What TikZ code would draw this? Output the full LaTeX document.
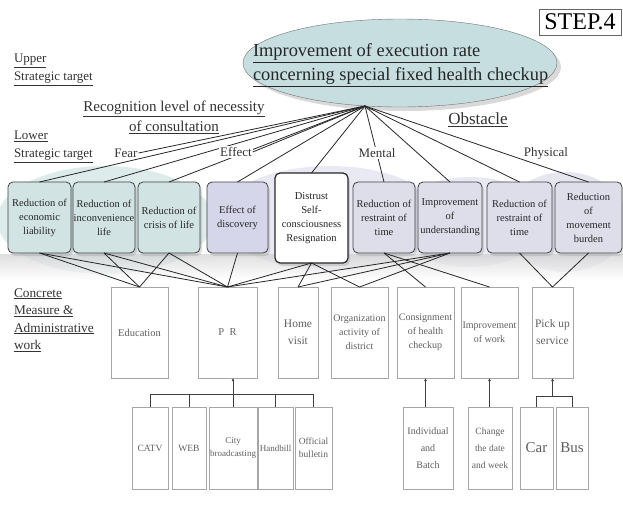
\documentclass[tikz,border=0pt]{standalone}
\usepackage{fontspec}
\setmainfont{Liberation Serif}
\usetikzlibrary{arrows.meta,positioning,shapes.geometric,shadows}

\definecolor{goalfill}{RGB}{198,222,224}
\definecolor{tealbox}{RGB}{210,227,228}
\definecolor{lilabox}{RGB}{214,214,234}
\definecolor{greybox}{RGB}{222,222,234}
\definecolor{tealglow}{RGB}{200,222,222}
\definecolor{lilaglow}{RGB}{206,206,228}
\definecolor{measuretext}{RGB}{95,95,95}

\begin{document}
\begin{tikzpicture}[
  x=1pt, y=-1pt,
  every node/.style={inner sep=0pt, outer sep=0pt, align=center},
  goal/.style={ellipse, draw=black!55, fill=goalfill, minimum width=314, minimum height=88,
    drop shadow={shadow xshift=4pt, shadow yshift=-4pt, opacity=.3}},
  target/.style={draw=black!75, thick, rounded corners=5pt, minimum height=71, text=black!85,
    font=\fontsize{10.5}{14}\selectfont, drop shadow={shadow xshift=2pt, shadow yshift=-3pt, opacity=.25}},
  measure/.style={draw=black!35, minimum height=91, text=measuretext, font=\fontsize{10}{14}\selectfont},
  means/.style={draw=black!35, minimum height=82, text=measuretext, font=\fontsize{9.5}{13}\selectfont},
  level/.style={anchor=west, align=left, text=black!80, font=\fontsize{13}{18}\selectfont},
  kind/.style={fill=white, inner sep=1pt, text=black!80, font=\fontsize{13}{16}\selectfont},
  >={Latex[length=3pt,width=3pt]}
]
\useasboundingbox (0,0) rectangle (623,509);

% --- background glow behind the targets ---
\fill[tealglow, opacity=.6] (105,220) ellipse (108 and 54);
\fill[lilaglow, opacity=.45] (330,218) ellipse (110 and 52);
\fill[lilaglow, opacity=.45] (470,222) ellipse (75 and 45);
\fill[lilaglow, opacity=.5] (565,222) ellipse (62 and 50);
\shade[top color=black!18, bottom color=white, opacity=.7] (0,254) rectangle (623,280);

% --- upper target ---
\node (goal) [goal] at (400,63) {};
\node (title) [anchor=west, align=left, text=black!85, font=\fontsize{18.4}{24}\selectfont] at (253,65)
  {\underline{Improvement of execution rate}\\\underline{concerning special fixed health checkup}};
\coordinate (hub) at (365,106);

\node (step) [draw=black!60, minimum width=82, minimum height=26, font=\fontsize{24}{24}\selectfont] at (580,22) {STEP.4};

% --- level labels ---
\node (upper) [level] at (14,70) {\underline{Upper}\\\underline{Strategic target}};
\node (lower) [level] at (14,147) {\underline{Lower}\\\underline{Strategic target}};
\node (concrete) [level, font=\fontsize{13.3}{17.5}\selectfont] at (14,320)
  {\underline{Concrete}\\\underline{Measure \&}\\\underline{Administrative}\\\underline{work}};
\node (recog) [text=black!80, font=\fontsize{15}{20}\selectfont] at (174,117)
  {\underline{Recognition level of necessity}\\\underline{of consultation}};
\node (obstacle) [text=black!80, font=\fontsize{17}{20}\selectfont] at (478,120) {\underline{Obstacle}};

% --- lower targets ---
\node (b1) [target, fill=tealbox, minimum width=63] at (39.5,217.5) {Reduction of\\economic\\liability};
\node (b2) [target, fill=tealbox, minimum width=62] at (104,217.5) {Reduction of\\inconvenience\\life};
\node (b3) [target, fill=tealbox, minimum width=62] at (169,217.5) {Reduction of\\crisis of life};
\node (b4) [target, fill=lilabox, minimum width=61] at (237.5,217.5) {Effect of\\discovery};
\node (b5) [target, fill=white, very thick, draw=black!85, minimum width=73, minimum height=90] at (311.5,218)
  {Distrust\\Self-\\consciousness\\Resignation};
\node (b6) [target, fill=greybox, minimum width=62] at (384,217.5) {Reduction of\\restraint of\\time};
\node (b7) [target, fill=greybox, minimum width=64] at (450,217.5) {Improvement\\of\\understanding};
\node (b8) [target, fill=greybox, minimum width=65] at (519.5,217.5) {Reduction of\\restraint of\\time};
\node (b9) [target, fill=greybox, minimum width=67] at (588.5,217.5) {Reduction\\of\\movement\\burden};

% --- concrete measures ---
\node (edu)  [measure, minimum width=57, font=\fontsize{10.5}{14}\selectfont] at (139.5,332.5) {Education};
\node (pr)   [measure, minimum width=59, font=\fontsize{10.5}{14}\selectfont] at (227.5,332.5) {P\ \ R};
\node (home) [measure, minimum width=40, font=\fontsize{11.5}{17}\selectfont] at (298,332.5) {Home\\visit};
\node (org)  [measure, minimum width=57] at (359.5,332.5) {Organization\\activity of\\district};
\node (cons) [measure, minimum width=57] at (425.5,332.5) {Consignment\\of health\\checkup};
\node (impw) [measure, minimum width=57] at (489.5,332.5) {Improvement\\of work};
\node (pick) [measure, minimum width=41, font=\fontsize{11.5}{17}\selectfont] at (552.5,332.5) {Pick up\\service};

% --- means ---
\node (catv)  [means, minimum width=36] at (150,448) {CATV};
\node (web)   [means, minimum width=34] at (189,448) {WEB};
\node (city)  [means, minimum width=48, font=\fontsize{9}{13}\selectfont] at (233,448) {City\\broadcasting};
\node (hand)  [means, minimum width=35, font=\fontsize{9}{13}\selectfont] at (275.5,448) {Handbill};
\node (off)   [means, minimum width=37] at (313.5,448) {Official\\bulletin};
\node (indiv) [means, minimum width=50, font=\fontsize{10}{17}\selectfont] at (428,448) {Individual\\and\\Batch};
\node (chg)   [means, minimum width=44, font=\fontsize{9.5}{17}\selectfont] at (490,448) {Change\\the date\\and week};
\node (car)   [means, minimum width=33, font=\fontsize{15}{15}\selectfont] at (536.5,448) {Car};
\node (bus)   [means, minimum width=32, font=\fontsize{15}{15}\selectfont] at (572,448) {Bus};

% --- upper target to lower targets ---
\foreach \b in {b1,b2,b3,b4,b5,b6,b7,b8,b9}
  \draw[thick, black!85] (hub) -- (\b.north);
\node (fear)   [kind] at (126,153) {Fear};
\node (effect) [kind] at (236,152) {Effect};
\node (mental) [kind] at (377,153) {Mental};
\node (phys)   [kind, fill=none] at (546,153) {Physical};
\draw[thick, black!85] (hub) -- (fear.east);
\draw[thick, black!85] (hub) -- (effect.east);

% --- lower targets to measures ---
\foreach \a/\m in {b1/edu,b1/pr,b2/edu,b2/pr,b3/edu,b3/pr,b4/pr,b5/pr,b5/home,b5/org,
                   b6/cons,b6/impw,b7/pr,b7/home,b7/org,b8/pick,b9/pick}
  \draw[thick, black!85] (\a.south) -- (\m.north);

% --- means to measures ---
\coordinate (bar) at (0,394);
\coordinate (pbar) at (0,396);
\draw[thick, black!75] (catv.north) |- (off.north |- bar) -- (off.north);
\foreach \n in {web,hand}
  \draw[thick, black!75] (\n.north) -- (\n.north |- bar);
\draw[thick, black!75, ->] (city.north) -- (city.north |- pr.south);
\draw[thick, black!75, ->] (cons.south |- indiv.north) -- (cons.south);
\draw[thick, black!75, ->] (impw.south |- chg.north) -- (impw.south);
\draw[thick, black!75] (car.north) |- (bus.north |- pbar) -- (bus.north);
\draw[thick, black!75, ->] (pick.south |- pbar) -- (pick.south);

\end{tikzpicture}
\end{document}
